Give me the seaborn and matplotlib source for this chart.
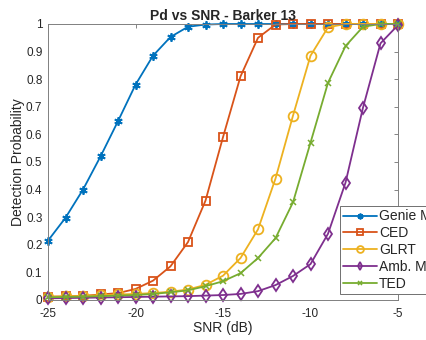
import numpy as np
import pandas as pd
import matplotlib
matplotlib.use("Agg")
import matplotlib.pyplot as plt
import seaborn as sns

snr = list(range(-25, -4))
genie = [0.215, 0.298, 0.40, 0.52, 0.648, 0.78, 0.885, 0.953, 0.99, 0.998,
         1, 1, 1, 1, 1, 1, 1, 1, 1, 1, 1]
ced = [0.012, 0.013, 0.015, 0.02, 0.025, 0.04, 0.07, 0.122, 0.21, 0.36,
       0.59, 0.81, 0.95, 0.998, 1, 1, 1, 1, 1, 1, 1]
glrt = [0.012, 0.013, 0.015, 0.017, 0.02, 0.022, 0.025, 0.03, 0.038, 0.055,
        0.088, 0.152, 0.256, 0.44, 0.668, 0.885, 0.988, 1, 1, 1, 1]
amb = [0.006, 0.007, 0.008, 0.009, 0.01, 0.011, 0.012, 0.013, 0.014, 0.016,
       0.018, 0.022, 0.032, 0.054, 0.087, 0.13, 0.24, 0.425, 0.697, 0.93, 0.996]
ted = [0.01, 0.011, 0.012, 0.014, 0.016, 0.018, 0.022, 0.028, 0.035, 0.05,
       0.068, 0.097, 0.152, 0.224, 0.354, 0.57, 0.787, 0.92, 0.99, 1, 1]
names = ["Genie MF", "CED", "GLRT", "Amb. Metric", "TED"]
series = [genie, ced, glrt, amb, ted]
colors = ["#0072BD", "#D95319", "#EDB120", "#7E2F8E", "#77AC30"]
markers = [(6, 2, 0), "s", "o", "d", "x"]
msizes = [6, 5.5, 7, 6, 5]

sns.set_style("white")
plt.rcParams['font.family'] = ['Liberation Sans', 'DejaVu Sans']

fig = plt.figure(figsize=(4.26, 3.40), dpi=100)
ax = fig.add_axes([48/426, (340-300)/340, (398-48)/426, (300-24)/340])

for name, vals, c, m, ms in zip(names, series, colors, markers, msizes):
    df = pd.DataFrame({"SNR": snr, "Pd": vals})
    sns.lineplot(data=df, x="SNR", y="Pd", ax=ax, color=c, marker=m,
                 markersize=ms, markerfacecolor="none",
                 markeredgecolor=c, markeredgewidth=1.3 if m != "x" else 1.1,
                 linewidth=1.3, label=name, clip_on=False)

ax.set_xlim(-25, -5)
ax.set_ylim(0, 1)
ax.set_xticks([-25, -20, -15, -10, -5])
ax.set_xticklabels(["-25", "-20", "-15", "-10", "-5"])
yt = [i/10 for i in range(11)]
ax.set_yticks(yt)
ax.set_yticklabels(["0", "0.1", "0.2", "0.3", "0.4", "0.5", "0.6", "0.7", "0.8", "0.9", "1"])
ax.tick_params(direction="in", length=3, width=0.6, colors="#707070", labelsize=8.5,
               top=True, right=True, labelcolor="#262626", pad=4)
ax.tick_params(axis="x", pad=5.5)
for s in ax.spines.values():
    s.set_visible(True)
    s.set_color("#808080")
    s.set_linewidth(0.7)
ax.set_xlabel("SNR (dB)", fontsize=10, color="#262626", labelpad=1)
ax.set_ylabel("Detection Probability", fontsize=10, color="#262626", labelpad=1)
ax.set_title("Pd vs SNR - Barker 13", fontsize=10, fontweight="bold", pad=3)

leg = ax.legend(loc="lower left", bbox_to_anchor=(340/426, (340-294)/340),
                bbox_transform=fig.transFigure, fontsize=10, frameon=True,
                fancybox=False, edgecolor="#707070", framealpha=1,
                handlelength=2.4, handletextpad=0.15, borderpad=0.25, labelspacing=0.2,
                borderaxespad=0, markerscale=0.7)
leg.get_frame().set_linewidth(0.7)

fig.savefig("out.png", dpi=100)
